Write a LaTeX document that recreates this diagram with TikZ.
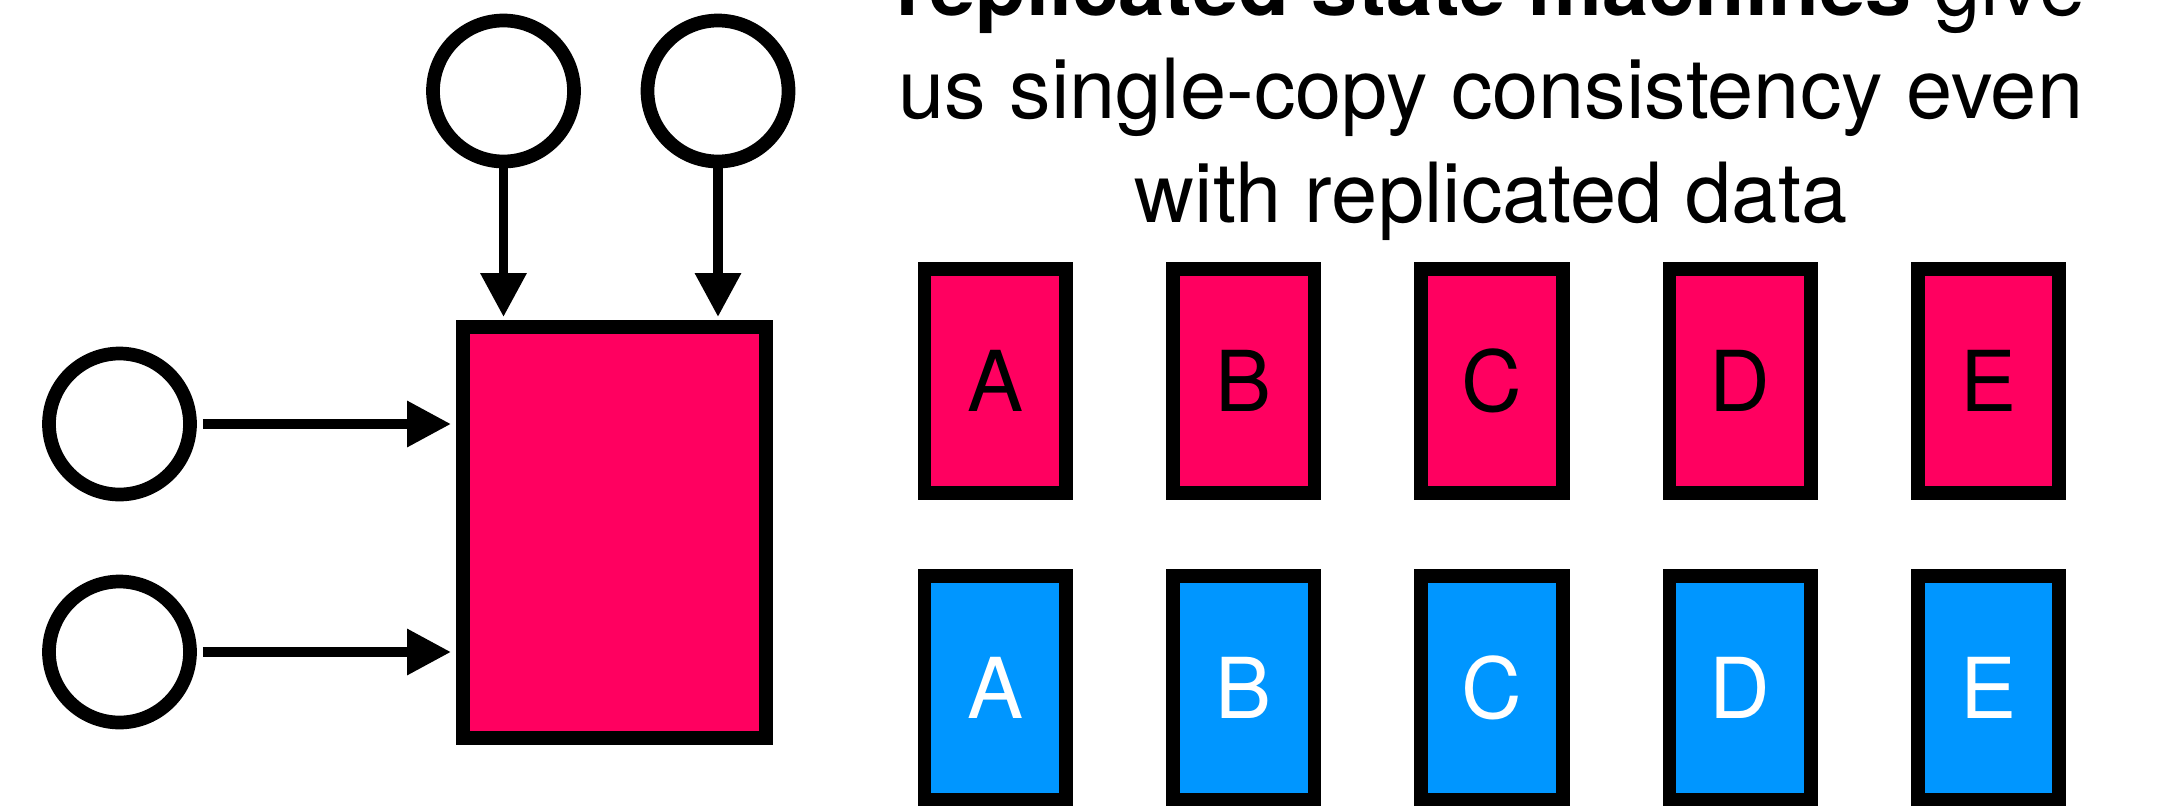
\documentclass[tikz,border=0pt]{standalone}
\usepackage{fontspec}
\setmainfont{TeX Gyre Heros}
\usetikzlibrary{arrows.meta}
\definecolor{smpink}{RGB}{255,0,96}
\definecolor{smblue}{RGB}{0,150,255}
\tikzset{
  client/.style={circle, draw, line width=13.7pt, minimum size=141pt, inner sep=0pt, fill=white},
  machine/.style={rectangle, draw, line width=14pt, fill=smpink,
    minimum width=303pt, minimum height=411pt, inner sep=0pt},
  replica/.style={rectangle, draw, line width=13.7pt, minimum width=141.6pt,
    minimum height=223.6pt, inner sep=0pt, font=\fontsize{84}{84}\selectfont},
  redrep/.style={replica, fill=smpink, text=black},
  bluerep/.style={replica, fill=smblue, text=white},
  req/.style={line width=9.7pt, -{Triangle[length=44pt,width=44pt]}},
  caption/.style={anchor=base, inner sep=0pt, font=\fontsize{83}{100}\selectfont}
}
\begin{document}
\begin{tikzpicture}[x=1pt, y=-1pt]
  \useasboundingbox (0,0) rectangle (2157,807);

  % clients and the state machine
  \node[client] (t1) at (503.5,91) {};
  \node[client] (t2) at (718,91) {};
  \node[client] (l1) at (119.5,424) {};
  \node[client] (l2) at (119.5,652) {};
  \node[machine] (m) at (614.5,532.5) {};

  % requests into the state machine
  \draw[req, shorten >=3pt] (t1) -- (t1 |- m.north);
  \draw[req, shorten >=3pt] (t2) -- (t2 |- m.north);
  \draw[req, shorten <=6pt, shorten >=5pt] (l1) -- (l1 -| m.west);
  \draw[req, shorten <=6pt, shorten >=5pt] (l2) -- (l2 -| m.west);

  % caption
  \node[caption] (cap1) at (1491,15) {\textbf{replicated state machines} give};
  \node[caption] (cap2) at (1491,118.3) {us single-copy consistency even};
  \node[caption] (cap3) at (1491,222) {with replicated data};

  % replicated data items
  \foreach \name [count=\i from 0] in {A,B,C,D,E} {
    \node[redrep]  (r\name) at ({995.3+\i*248.3},381)   {\name};
    \node[bluerep] (b\name) at ({995.3+\i*248.3},687.8) {\name};
  }
\end{tikzpicture}
\end{document}
